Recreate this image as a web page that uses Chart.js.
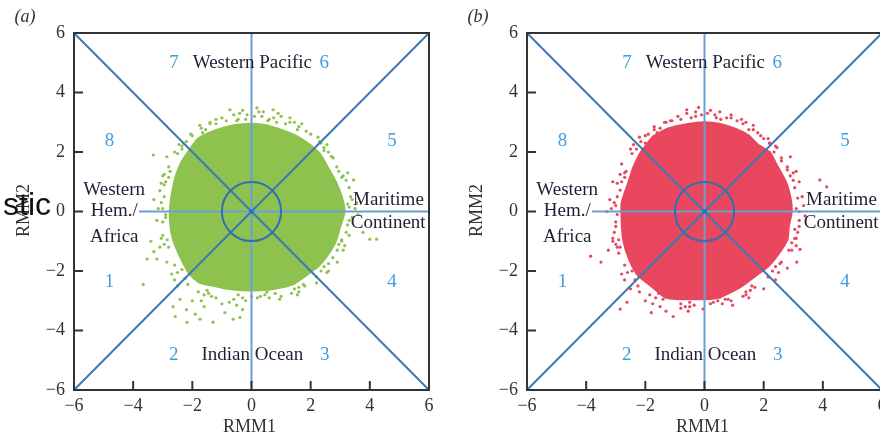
<!DOCTYPE html>
<html>
<head>
<meta charset="utf-8">
<script src="https://cdn.jsdelivr.net/npm/chart.js@4/dist/chart.umd.min.js"></script>
<style>
  html, body { margin: 0; padding: 0; background: #fff; }
  body { width: 880px; height: 438px; position: relative; overflow: hidden; }
  .panel { position: absolute; top: 0; width: 440px; height: 438px; }
  #panelA { left: 0; }
  #panelB { left: 453px; }
  .overlap-text { position: absolute; left: 0; top: 186px; width: 51px; text-align: right;
    font: 32px "Liberation Sans", Arial, sans-serif; color: #111; line-height: 36px; z-index: 5; }
</style>
</head>
<body>
<div class="panel" id="panelA"><canvas id="chartA" width="440" height="438"></canvas></div>
<div class="panel" id="panelB"><canvas id="chartB" width="440" height="438"></canvas></div>
<div class="overlap-text">stic</div>
<script>
// ---- axis ticks (RMM1 / RMM2) ----
const AXIS_TICKS = [-6, -4, -2, 0, 2, 4, 6];

// ---- panel (a): outline of the dense core of RMM1/RMM2 points ----
const coreA = [
  [0.0, 2.95], [0.5, 2.9], [1.0, 2.75], [1.5, 2.55], [1.9, 2.3], [2.3, 1.95], [2.6, 1.45],
  [2.85, 1.0], [3.05, 0.5], [3.15, 0.0], [3.0, -0.5], [2.85, -1.0], [2.55, -1.5], [2.25, -1.85],
  [1.85, -2.15], [1.4, -2.45], [0.8, -2.6], [0.3, -2.65], [-0.3, -2.65], [-0.8, -2.6],
  [-1.3, -2.5], [-1.75, -2.4], [-2.1, -2.1], [-2.4, -1.55], [-2.65, -0.95], [-2.75, -0.4],
  [-2.75, 0.2], [-2.6, 1.05], [-2.4, 1.6], [-2.15, 2.0], [-1.8, 2.45], [-1.3, 2.7],
  [-0.6, 2.9], [0.0, 2.95]
];
// ---- panel (a): scattered points outside the dense core ----
const fringeA = [
  [-0.73, 3.42], [0.18, 3.48], [0.73, 3.42], [-0.4, 3.3], [0.4, 3.35], [1.0, 3.2], [-1.0, 3.15],
  [1.3, 3.0], [-1.4, 3.0], [0.1, 3.2], [-0.2, 3.1], [0.6, 3.1], [1.6, 2.85], [-1.7, 2.8],
  [2.0, 2.6], [-2.0, 2.55], [-2.3, 2.3], [2.35, 2.3], [-2.6, 2.0], [2.6, 2.0], [-3.32, 1.9],
  [-2.86, 1.84], [2.76, 1.8], [2.88, 1.5], [-2.8, 1.5], [-3.0, 1.2], [3.45, 1.06], [3.1, 1.2],
  [3.3, 0.8], [-3.1, 0.7], [-3.3, 0.4], [3.4, 0.4], [3.5, 0.1], [-3.0, 0.1], [-3.2, -0.3],
  [3.3, -0.3], [3.77, -0.7], [4.0, -0.93], [4.23, -0.93], [3.3, -0.8], [-3.0, -0.8],
  [-3.1, -1.2], [3.1, -1.3], [-3.2, -1.6], [-3.53, -1.6], [-2.86, -1.7], [-3.66, -2.45],
  [2.9, -1.7], [2.6, -2.0], [-2.7, -2.1], [-2.5, -2.5], [2.2, -2.4], [-2.42, -2.95],
  [-2.65, -3.2], [-2.58, -3.53], [-2.18, -3.73], [-1.74, -3.62], [-1.3, -3.72], [-0.62, -3.62],
  [-0.39, -3.56], [-2.0, -3.0], [-1.6, -3.2], [-1.0, -3.1], [-0.2, -3.0], [0.52, -2.71],
  [1.0, -2.85], [1.6, -2.7], [-1.2, -2.9], [0.2, -2.9], [-2.2, -3.3], [-1.9, -3.45],
  [-0.9, -3.4], [-0.3, -3.3], [-2.95, 0.9], [-2.9, -0.2], [3.25, 0.25], [3.05, -1.0],
  [2.45, 2.15], [-2.35, 2.2], [-1.2, 2.95], [1.15, 2.95], [2.75, -1.55], [-2.6, -1.8],
  [1.8, -2.5], [-1.45, -2.75], [0.0, -2.85], [-0.5, 3.05], [0.85, 3.0], [-3.4, -1.0],
  [3.3, 0.15], [3.4, -0.2], [3.35, 0.5], [3.25, -0.45], [3.55, 0.3], [3.6, -0.1],
  [3.05, 1.15], [3.2, 1.05], [2.95, 1.35], [3.25, 1.3],
  [2.45, 2.05], [2.55, 2.25], [2.3, 2.35], [2.7, 1.85], [2.25, 2.5],
  [1.55, 2.75], [1.7, 2.95], [1.45, 3.0], [1.85, 2.7], [1.3, 3.15],
  [0.55, 3.05], [0.35, 3.2], [0.75, 3.15], [0.25, 3.35], [0.9, 3.3],
  [-0.45, 3.1], [-0.6, 3.25], [-0.3, 3.4], [-0.85, 3.05], [-0.15, 3.25],
  [-1.55, 2.75], [-1.4, 2.95], [-1.75, 2.9], [-1.65, 2.65], [-1.2, 3.1],
  [-2.35, 2.1], [-2.2, 2.35], [-2.5, 1.95], [-2.45, 2.25], [-2.05, 2.6],
  [-2.8, 1.15], [-2.9, 1.0], [-2.75, 1.35], [-3.05, 0.95], [-2.95, 1.25],
  [-2.9, -0.1], [-3.05, 0.3], [-3.0, -0.35], [-2.95, 0.5], [-3.15, 0.1],
  [-2.85, -0.95], [-2.95, -1.1], [-3.05, -0.9], [-2.8, -1.2], [-3.3, -1.35],
  [-2.35, -1.95], [-2.5, -2.05], [-2.25, -2.25], [-2.6, -2.3], [-2.15, -2.45],
  [-1.5, -2.65], [-1.6, -2.8], [-1.35, -2.85], [-1.8, -2.7], [-1.7, -3.0],
  [-0.45, -2.8], [-0.6, -2.95], [-0.3, -2.9], [-0.75, -3.05], [-0.5, -3.15],
  [0.45, -2.8], [0.6, -2.9], [0.3, -2.85], [0.8, -2.75], [0.95, -2.95],
  [1.45, -2.6], [1.6, -2.55], [1.35, -2.75], [1.75, -2.45], [1.55, -2.8],
  [2.35, -2.0], [2.45, -1.85], [2.2, -2.2], [2.55, -2.05], [2.6, -1.75],
  [2.95, -1.1], [3.05, -0.95], [2.9, -1.3], [3.15, -1.15], [3.2, -0.7]
];

// ---- panel (b): outline of the dense core of RMM1/RMM2 points ----
const coreB = [
  [0.0, 3.0], [0.5, 2.95], [1.0, 2.8], [1.5, 2.55], [1.8, 2.25], [2.2, 2.0], [2.45, 1.55],
  [2.75, 1.0], [2.9, 0.5], [2.95, 0.0], [2.85, -0.5], [2.8, -0.95], [2.45, -1.5], [2.15, -1.85],
  [1.75, -2.15], [1.2, -2.55], [0.45, -2.9], [-0.3, -2.95], [-1.3, -2.9], [-1.75, -2.55],
  [-2.25, -2.15], [-2.55, -1.6], [-2.75, -0.95], [-2.8, -0.3], [-2.8, 0.3], [-2.55, 1.05],
  [-2.4, 1.5], [-2.15, 2.0], [-1.7, 2.55], [-1.2, 2.8], [-0.5, 2.95], [0.0, 3.0]
];
// ---- panel (b): scattered points outside the dense core ----
const fringeB = [
  [-0.6, 3.42], [0.52, 3.35], [-0.2, 3.5], [0.1, 3.3], [-0.9, 3.2], [0.9, 3.15], [-1.3, 3.0],
  [1.3, 2.95], [-1.7, 2.75], [1.65, 2.75], [-2.2, 2.5], [2.0, 2.45], [-2.5, 2.1], [2.4, 2.2],
  [2.9, 1.84], [-2.8, 1.6], [2.8, 1.5], [3.9, 1.06], [4.13, 0.83], [3.2, 1.0], [-2.85, 0.72],
  [-3.1, 1.0], [-3.2, 0.4], [3.3, 0.5], [-3.3, 0.0], [3.2, 0.0], [-3.0, -0.5], [3.2, -0.5],
  [-3.1, -1.0], [3.23, -1.27], [3.12, -1.7], [-3.85, -1.5], [-3.5, -1.7], [-2.9, -1.4],
  [2.8, -1.9], [-2.8, -2.1], [2.4, -2.3], [-2.5, -2.6], [2.0, -2.6], [-2.85, -3.28],
  [-2.62, -3.05], [-1.06, -3.53], [-0.05, -3.28], [0.52, -2.88], [-2.0, -3.0], [-1.5, -3.2],
  [-0.5, -3.2], [0.9, -3.0], [1.4, -2.8], [-1.8, -3.4], [0.2, -3.1], [-1.3, -3.35],
  [-0.3, 3.2], [0.4, 3.15], [1.1, 3.05], [-1.1, 3.05], [2.2, 2.3], [-2.0, 2.3], [2.6, 1.7],
  [-2.7, 1.3], [3.05, 0.8], [-3.0, 0.2], [3.1, -0.9], [-3.05, -0.7], [2.6, -1.7],
  [-2.7, -1.8], [1.6, -2.5], [-2.2, -2.7], [-0.8, -3.1], [0.7, -2.95], [-1.9, 2.6],
  [1.9, 2.55], [3.0, 1.3], [-2.95, -1.2], [2.95, -1.3],
  [3.1, 0.1], [3.2, -0.3], [3.15, 0.45], [3.05, -0.6], [3.35, 0.2], [3.4, -0.15],
  [2.9, 1.2], [3.0, 1.05], [2.8, 1.4], [3.1, 1.35],
  [2.35, 2.0], [2.45, 2.15], [2.2, 2.3], [2.6, 1.8], [2.15, 2.45],
  [1.5, 2.75], [1.65, 2.9], [1.4, 3.0], [1.8, 2.65], [1.25, 3.1],
  [0.55, 3.1], [0.35, 3.25], [0.75, 3.15], [0.2, 3.4], [0.9, 3.25],
  [-0.45, 3.15], [-0.6, 3.3], [-0.3, 3.35], [-0.8, 3.1], [-0.1, 3.25],
  [-1.5, 2.8], [-1.35, 3.0], [-1.7, 2.85], [-1.6, 2.65], [-1.15, 3.05],
  [-2.3, 2.1], [-2.15, 2.35], [-2.45, 1.95], [-2.4, 2.25], [-2.0, 2.55],
  [-2.7, 1.15], [-2.8, 1.0], [-2.65, 1.35], [-2.95, 0.95], [-2.85, 1.25],
  [-2.95, -0.1], [-3.05, 0.3], [-3.0, -0.35], [-2.95, 0.5], [-3.15, 0.1],
  [-2.9, -0.95], [-3.0, -1.1], [-3.1, -0.9], [-2.85, -1.2], [-3.25, -1.3],
  [-2.45, -2.0], [-2.6, -2.05], [-2.35, -2.3], [-2.7, -2.3], [-2.25, -2.5],
  [-1.55, -2.75], [-1.65, -2.9], [-1.4, -2.95], [-1.85, -2.8], [-1.75, -3.1],
  [-0.5, -3.05], [-0.65, -3.2], [-0.35, -3.15], [-0.8, -3.25], [-0.55, -3.35],
  [0.45, -3.0], [0.6, -3.1], [0.3, -3.05], [0.8, -2.95], [0.95, -3.15],
  [1.4, -2.7], [1.55, -2.65], [1.3, -2.85], [1.7, -2.55], [1.5, -2.9],
  [2.3, -2.0], [2.4, -1.85], [2.15, -2.2], [2.5, -2.05], [2.55, -1.75],
  [2.95, -1.05], [3.05, -0.9], [2.85, -1.3], [3.1, -1.15], [3.15, -0.7]
];

// ---- reference lines of the RMM phase diagram ----
const phaseLines = [
  [[-6, 6], [6, -6]],
  [[-6, -6], [6, 6]]
];
const axisLines = [
  [[0, -6], [0, 6]],
  [[-3.8, 0], [6, 0]]
];
const CIRCLE_R = 1;

// ---- phase numbers and region names ----
const phaseNumbers = ['1', '2', '3', '4', '5', '6', '7', '8'];
const phaseNumberPos = [[-4.8, -2.36], [-2.63, -4.83], [2.48, -4.83], [4.75, -2.36],
                        [4.75, 2.37], [2.46, 4.98], [-2.62, 4.98], [-4.8, 2.37]];
const regionNames = ['Western Pacific', 'Indian Ocean', 'Western', 'Hem./', 'Africa', 'Maritime', 'Continent'];
const regionNamePos = [[0.03, 4.98], [0.03, -4.83], [-4.64, 0.73], [-4.64, 0.0],
                       [-4.64, -0.86], [4.63, 0.38], [4.62, -0.39]];

const SERIF = '"Liberation Serif", "Times New Roman", serif';
const toXY = arr => arr.map(p => ({ x: p[0], y: p[1] }));
const minusSign = v => String(v).replace('-', '\u2212');

const overlayPlugin = {
  id: 'phaseOverlay',
  afterDatasetsDraw(chart, args, opts) {
    const { ctx, chartArea: a, scales: { x, y } } = chart;
    ctx.save();
    // unit circle
    const cx = x.getPixelForValue(0), cy = y.getPixelForValue(0);
    const r = x.getPixelForValue(CIRCLE_R) - cx;
    ctx.beginPath();
    ctx.arc(cx, cy, r, 0, Math.PI * 2);
    ctx.strokeStyle = '#2f70b0';
    ctx.lineWidth = 2;
    ctx.stroke();
    ctx.beginPath();
    ctx.arc(cx, cy, 2.2, 0, Math.PI * 2);
    ctx.fillStyle = '#2f70b0';
    ctx.fill();

    // phase numbers
    ctx.font = '19px ' + SERIF;
    ctx.textAlign = 'center';
    ctx.textBaseline = 'middle';
    ctx.fillStyle = '#3c9ee0';
    phaseNumbers.forEach((t, i) => {
      ctx.fillText(t, x.getPixelForValue(phaseNumberPos[i][0]), y.getPixelForValue(phaseNumberPos[i][1]));
    });
    // region names
    ctx.fillStyle = '#221f33';
    regionNames.forEach((t, i) => {
      ctx.fillText(t, x.getPixelForValue(regionNamePos[i][0]), y.getPixelForValue(regionNamePos[i][1]));
    });

    // frame
    ctx.strokeStyle = '#333';
    ctx.lineWidth = 2;
    ctx.strokeRect(a.left, a.top, a.right - a.left, a.bottom - a.top);
    // inward tick marks on bottom and left axes
    ctx.beginPath();
    AXIS_TICKS.forEach(v => {
      const px = x.getPixelForValue(v);
      ctx.moveTo(px, a.bottom);
      ctx.lineTo(px, a.bottom - 9);
      const py = y.getPixelForValue(v);
      ctx.moveTo(a.left, py);
      ctx.lineTo(a.left + 9, py);
    });
    ctx.stroke();

    // axis titles and panel tag
    ctx.fillStyle = '#333';
    ctx.font = '18px ' + SERIF;
    ctx.fillText('RMM1', (a.left + a.right) / 2 - 2, a.bottom + 37);
    ctx.save();
    ctx.translate(a.left - 50, (a.top + a.bottom) / 2 - 1);
    ctx.rotate(-Math.PI / 2);
    ctx.fillText('RMM2', 0, 0);
    ctx.restore();
    ctx.font = 'italic 18px ' + SERIF;
    ctx.fillText(opts.tag, 25, 17);
    ctx.restore();
  }
};

function buildChart(canvasId, core, fringe, color, tag) {
  const datasets = [];
  phaseLines.forEach(seg => datasets.push({
    data: toXY(seg), showLine: true, borderColor: '#3b78b6', borderWidth: 2,
    pointRadius: 0, order: 0
  }));
  axisLines.forEach(seg => datasets.push({
    data: toXY(seg), showLine: true, borderColor: '#6a9fd3', borderWidth: 2,
    pointRadius: 0, order: 0
  }));
  datasets.push({
    data: toXY(fringe), backgroundColor: color, borderWidth: 0, pointRadius: 1.6, order: 2
  });
  datasets.push({
    data: toXY(core), showLine: true, fill: 'shape', backgroundColor: color,
    borderColor: color, borderWidth: 2, pointRadius: 0, tension: 0.2, order: 1
  });

  return new Chart(document.getElementById(canvasId), {
    type: 'scatter',
    data: { datasets },
    options: {
      responsive: false,
      animation: false,
      events: [],
      layout: { padding: { top: 33, right: 11, left: 0, bottom: 0 } },
      plugins: { legend: { display: false }, tooltip: { enabled: false }, phaseOverlay: { tag } },
      scales: {
        x: {
          type: 'linear', min: -6, max: 6,
          afterFit: s => { s.height = 48; },
          afterBuildTicks: s => { s.ticks = AXIS_TICKS.map(v => ({ value: v })); },
          grid: { display: false, drawTicks: false },
          border: { display: false },
          ticks: { padding: 5, color: '#333', font: { family: SERIF, size: 18 }, callback: minusSign, maxRotation: 0 }
        },
        y: {
          type: 'linear', min: -6, max: 6,
          afterFit: s => { s.width = 74; },
          afterBuildTicks: s => { s.ticks = AXIS_TICKS.map(v => ({ value: v })); },
          grid: { display: false, drawTicks: false },
          border: { display: false },
          ticks: { padding: 9, color: '#333', font: { family: SERIF, size: 18 }, callback: minusSign }
        }
      }
    },
    plugins: [overlayPlugin]
  });
}

buildChart('chartA', coreA, fringeA, '#8ec24e', '(a)');
buildChart('chartB', coreB, fringeB, '#e8475e', '(b)');
</script>
</body>
</html>
